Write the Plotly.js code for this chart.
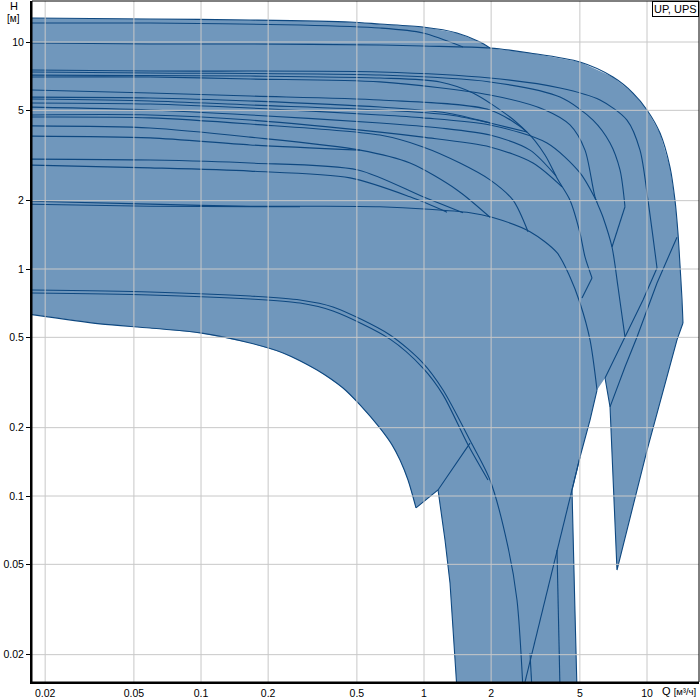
<!DOCTYPE html>
<html><head><meta charset="utf-8">
<script src="https://cdn.plot.ly/plotly-3.0.1.min.js"></script>
<style>html,body{margin:0;padding:0;background:#fff}#chart{width:700px;height:700px}</style>
</head><body><div id="chart"></div>
<script>
const tickVals = [0.02,0.05,0.1,0.2,0.5,1,2,5,10];
const tickText = ["0.02","0.05","0.1","0.2","0.5","1","2","5","10"];

// outline of the shaded operating area
const envQ = [0.01676,0.05906,0.1659,0.4658,0.6348,0.9897,1.406,1.783,1.977,2.988,5.007,7.039,8.654,10.0,11.44,12.68,13.35,13.77,14.06,14.36,14.50,13.63,10.0,7.336,6.827,6.483,5.968,5.552,5.007,4.610,4.755,4.854,1.406,1.308,1.242,1.156,0.9207,0.8478,0.7805,0.7187,0.6348,0.5164,0.4332,0.3313,0.2332,0.1659,0.0990,0.05906,0.03524,0.01676];
const envH = [12.76,12.63,12.50,12.25,12.00,11.64,10.96,10.0,9.41,8.94,8.16,7.01,5.96,5.02,3.97,2.81,2.01,1.44,1.041,0.730,0.578,0.487,0.159,0.0472,0.247,0.331,0.293,0.216,0.1485,0.1063,0.0305,0.01397,0.01397,0.0414,0.0640,0.1063,0.0886,0.1176,0.144,0.168,0.199,0.252,0.299,0.359,0.427,0.472,0.523,0.550,0.573,0.633];

// smooth pump curves
const t1Q = [0.01676,0.05906,0.1659,0.4658,0.6348,0.9897,1.406,1.783,1.977];
const t1H = [12.76,12.63,12.50,12.25,12.00,11.64,10.96,10.0,9.41];
const t2Q = [0.01676,0.05906,0.278,0.6348,0.9897,1.496];
const t2H = [12.13,12.13,11.88,11.52,10.96,9.51];
const r1Q = [0.01676,0.05906,0.1659,0.6348,0.9897,1.977,2.988,5.007,7.039,8.654,10.0,11.44,12.68,13.35,13.77,14.06,14.36,14.50];
const r1H = [9.90,9.80,9.80,9.70,9.60,9.41,8.94,8.16,7.01,5.96,5.02,3.97,2.81,2.01,1.44,1.041,0.730,0.578];
const r2Q = [0.01676,0.05906,0.6348,1.977,4.073,6.156,8.132,9.304,10.10,11.09];
const r2H = [7.53,7.45,7.38,6.94,6.27,5.55,4.53,3.34,2.01,1.01];
const r3Q = [0.01676,0.05906,0.6348,1.977,4.073,5.726,6.827,7.567,7.965];
const r3H = [7.38,7.30,7.15,6.67,5.72,4.53,3.59,2.73,1.88];
const r4xQ = [0.01676,0.1659,0.6348,1.180,1.659,2.430,2.897];
const r4xH = [7.15,7.08,6.94,6.67,5.96,4.67,4.01];
const r4Q = [0.01676,0.05906,0.1659,0.6348,1.977,3.488,4.516,5.272,5.846,6.350,6.966,7.413,7.965];
const r4H = [7.01,7.01,6.87,6.67,5.84,5.02,4.31,3.34,2.08,1.69,1.25,0.833,0.502];
const m1Q = [0.01676,0.05906,0.1659,0.6348,1.977,2.897,3.488,3.989,4.516,5.007,5.272,5.668];
const m1H = [6.15,5.96,5.78,5.55,5.02,4.01,3.18,2.47,2.01,1.44,1.13,0.913];
const m2Q = [0.01676,0.05906,0.1659,0.6348,1.268,1.977,2.897];
const m2H = [5.72,5.67,5.50,5.17,4.87,4.40,4.01];
const m3Q = [0.01676,0.05906,0.1659,0.6348,1.308,1.977];
const m3H = [5.61,5.50,5.28,5.02,4.77,4.40];
const m4Q = [0.01676,0.05906,0.1659,0.6348,0.9897,1.977,3.561,5.007,5.968];
const m4H = [5.39,5.33,5.12,4.77,4.63,4.31,3.59,2.65,1.97];
const m5Q = [0.01676,0.05906,0.1659,0.6348,1.180,1.977,2.988,3.907];
const m5H = [5.17,5.02,4.77,4.40,4.18,3.89,3.34,2.57];
const m6Q = [0.01676,0.05906,0.1659,0.6348,0.9897,1.977,3.082,4.158];
const m6H = [4.77,4.77,4.53,4.01,3.81,3.45,2.93,2.30];
const m7Q = [0.01676,0.05906,0.1659,0.6348,0.9897,1.450,1.977,2.507,2.927];
const m7H = [4.67,4.63,4.35,3.89,3.45,2.93,2.47,2.01,1.46];
const m8Q = [0.01676,0.05906,0.1659,0.5164,0.8655,1.406,1.977];
const m8H = [4.27,4.18,3.81,3.34,2.93,2.23,1.69];
const m9Q = [0.01676,0.05906,0.1659,0.5164];
const m9H = [3.85,3.78,3.52,3.34];
const m10Q = [0.01676,0.05906,0.1659,0.5059,0.9897,1.496];
const m10H = [3.05,3.02,2.93,2.73,2.08,1.77];
const m11Q = [0.01676,0.05906,0.1659,0.4658,0.8655,1.268];
const m11H = [2.87,2.79,2.70,2.52,2.08,1.78];
const r6Q = [0.01676,0.05906,0.1659,0.6348,1.608,2.018,2.988,3.948,4.516,5.007,5.552,5.968];
const r6H = [1.99,1.93,1.89,1.88,1.77,1.69,1.46,1.18,0.922,0.708,0.487,0.293];
const r6bQ = [0.01676,0.05906,0.278];
const r6bH = [1.93,1.89,1.88];
const s1Q = [0.01676,0.05906,0.1659,0.278,0.3907,0.7039,0.9897,1.217,1.608,1.977,2.381,2.612,2.780];
const s1H = [0.808,0.792,0.760,0.730,0.680,0.512,0.385,0.293,0.176,0.1176,0.0596,0.0348,0.01397];
const s2Q = [0.01676,0.05906,0.1659,0.278,0.3907,0.7039,0.9897,1.217,1.575,1.936];
const s2H = [0.784,0.768,0.738,0.708,0.653,0.491,0.366,0.279,0.168,0.1176];
const sminQ = [0.01676,0.03524,0.05906,0.0990,0.1659,0.2332,0.3313,0.4332,0.5164,0.6348,0.7187,0.7805,0.8478,0.9207];
const sminH = [0.633,0.573,0.550,0.523,0.472,0.427,0.359,0.299,0.252,0.199,0.168,0.144,0.1176,0.0886];

// straight limit lines
const r1eQ = [14.50,13.63,10.0,7.336,6.827,6.483];
const r1eH = [0.578,0.487,0.159,0.0472,0.247,0.331];
const l4Q = [13.63,11.09,9.021,7.965,6.827];
const l4H = [1.38,0.868,0.502,0.370,0.247];
const l5Q = [11.09,9.596,7.965,6.483];
const l5H = [1.01,0.730,0.502,0.331];
const r3vQ = [7.965,6.966];
const r3vH = [1.88,1.25];
const m1kQ = [5.668,5.111];
const m1kH = [0.913,0.745];
const r6eQ = [5.968,5.552,5.007,4.610,4.755,4.854];
const r6eH = [0.293,0.216,0.1485,0.1063,0.0305,0.01397];
const stipQ = [0.9207,1.156,1.608];
const stipH = [0.0886,0.1063,0.171];
const leQ = [1.156,1.242,1.308,1.406];
const leH = [0.1063,0.0640,0.0414,0.01397];
const dgQ = [5.007,3.948,2.780];
const dgH = [0.1485,0.0578,0.01397];
const v1Q = [3.948,4.073];
const v1H = [0.0578,0.01397];
const v2Q = [2.988,3.050];
const v2H = [0.0203,0.01397];

const fillColor = 'rgb(112,151,188)';
const lineColor = 'rgb(14,72,128)';

const smoothCurves = [
  [t1Q,t1H],[t2Q,t2H],[r1Q,r1H],[r2Q,r2H],[r3Q,r3H],[r4xQ,r4xH],[r4Q,r4H],
  [m1Q,m1H],[m2Q,m2H],[m3Q,m3H],[m4Q,m4H],[m5Q,m5H],[m6Q,m6H],[m7Q,m7H],[m8Q,m8H],[m9Q,m9H],
  [m10Q,m10H],[m11Q,m11H],[r6Q,r6H],[r6bQ,r6bH],[s1Q,s1H],[s2Q,s2H],[sminQ,sminH]
];
const straightLines = [
  [r1eQ,r1eH],[l4Q,l4H],[l5Q,l5H],[r3vQ,r3vH],[m1kQ,m1kH],[r6eQ,r6eH],[stipQ,stipH],
  [leQ,leH],[dgQ,dgH],[v1Q,v1H],[v2Q,v2H]
];

const traces = [{
  x: envQ, y: envH, mode: 'lines', fill: 'toself', fillcolor: fillColor,
  line: {width: 0, color: fillColor}, hoverinfo: 'skip', showlegend: false
}];
smoothCurves.forEach(c => traces.push({
  x: c[0], y: c[1], mode: 'lines', line: {color: lineColor, width: 1.1, shape: 'spline', smoothing: 0.8},
  hoverinfo: 'skip', showlegend: false
}));
straightLines.forEach(c => traces.push({
  x: c[0], y: c[1], mode: 'lines', line: {color: lineColor, width: 1.1},
  hoverinfo: 'skip', showlegend: false
}));

const shapes = [];
tickVals.forEach(v => {
  shapes.push({type:'line', xref:'x', yref:'paper', x0:v, x1:v, y0:0, y1:1,
    line:{color:'#c8c8c8', width:1}, layer:'above'});
  shapes.push({type:'line', xref:'paper', yref:'y', x0:0, x1:1, y0:v, y1:v,
    line:{color:'#c8c8c8', width:1}, layer:'above'});
});
shapes.push({type:'rect', xref:'paper', yref:'paper', x0:0, x1:1, y0:0, y1:1,
  line:{color:'#000', width:1}, layer:'above'});

const fontFam = 'Liberation Sans, Arial, sans-serif';
const layout = {
  width: 700, height: 700,
  margin: {l: 32, r: 1, t: 1, b: 18, pad: 0},
  paper_bgcolor: '#fff', plot_bgcolor: '#fff',
  font: {family: fontFam, size: 10.5, color: '#000'},
  showlegend: false,
  xaxis: {type: 'log', range: [-1.758, 1.2332], showgrid: false, zeroline: false,
    showline: true, linecolor: '#000', linewidth: 2, ticks: '',
    tickvals: tickVals, ticktext: tickText, tickfont: {size: 10.5, family: fontFam}, fixedrange: true},
  yaxis: {type: 'log', range: [-1.8194, 1.1806], showgrid: false, zeroline: false,
    showline: true, linecolor: '#000', linewidth: 2, ticks: 'outside', ticklen: 4, tickcolor: '#000',
    tickvals: tickVals, ticktext: tickText, tickfont: {size: 10.5, family: fontFam}, fixedrange: true},
  shapes: shapes,
  annotations: [
    {text: 'UP, UPS', xref: 'paper', yref: 'paper', x: 1, y: 1, xanchor: 'right', yanchor: 'top',
     showarrow: false, bgcolor: '#fff', bordercolor: '#000', borderwidth: 1, borderpad: 1,
     font: {size: 11, family: fontFam}},
    {text: 'H', xref: 'paper', yref: 'paper', x: -0.027, y: 0.9927, xanchor: 'center', yanchor: 'middle',
     showarrow: false, font: {size: 11, family: fontFam}},
    {text: '[м]', xref: 'paper', yref: 'paper', x: -0.027, y: 0.9736, xanchor: 'center', yanchor: 'middle',
     showarrow: false, font: {size: 10, family: fontFam}},
    {text: 'Q <span style="font-size:9.5px">[м³/ч]</span>', xref: 'paper', yref: 'paper', x: 0.998, y: -0.0132,
     xanchor: 'right', yanchor: 'middle', showarrow: false, font: {size: 11, family: fontFam}}
  ]
};

Plotly.newPlot('chart', traces, layout, {displayModeBar: false, staticPlot: true});
</script>
</body></html>
